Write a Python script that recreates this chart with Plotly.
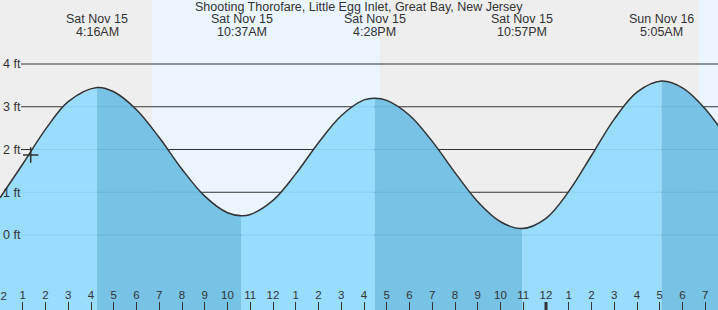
import plotly.graph_objects as go

# ---------------- data ----------------
title_text = "Shooting Thorofare, Little Egg Inlet, Great Bay, New Jersey"

# hours since midnight Sat Nov 15 and tide height (ft)
sample_hours = [0, 1, 2, 3, 5, 6, 7, 8, 9, 10, 11, 12, 13, 14, 15, 16, 17, 18, 19,
                20, 21, 22, 24, 25, 26, 27, 28, 30, 31, 32]
sample_ft = [0.87, 1.66, 2.47, 3.12, 3.35, 2.93, 2.28, 1.54, 0.91, 0.52, 0.48,
             0.81, 1.43, 2.16, 2.79, 3.16, 3.15, 2.80, 2.19, 1.46, 0.78, 0.31,
             0.39, 1.02, 1.86, 2.71, 3.34, 3.44, 2.95, 2.23]

# high / low tides
extreme_hours = [4.267, 10.617, 16.467, 22.95, 29.083]
extreme_ft = [3.45, 0.45, 3.20, 0.15, 3.60]
extreme_dates = ["Sat Nov 15", "Sat Nov 15", "Sat Nov 15", "Sat Nov 15", "Sun Nov 16"]
extreme_clock = ["4:16AM", "10:37AM", "4:28PM", "10:57PM", "5:05AM"]

# daylight periods (start, end) in hours
day_start = [6.67, 30.73]
day_end = [16.70, 32.0]

# current time marker
now_hour = [1.35]
now_ft = [1.87]
midnight_hour = [24]

ytick_vals = [0, 1, 2, 3, 4]
ytick_text = ["0 ft", "1 ft", "2 ft", "3 ft", "4 ft"]
xtick_vals = list(range(0, 32))
xtick_text = ["12", "1", "2", "3", "4", "5", "6", "7", "8", "9", "10", "11",
              "12", "1", "2", "3", "4", "5", "6", "7", "8", "9", "10", "11",
              "12", "1", "2", "3", "4", "5", "6", "7"]

# ---------------- style ----------------
FONT = "Liberation Sans, Arial, sans-serif"
TXT = "#333333"
NIGHT = "#EEEEEE"
DAY = "#EAF5FF"
RISE = "rgba(146,218,253,0.93)"
FALL = "rgba(110,190,228,0.93)"
X_RANGE = [0, 31.56]
Y_RANGE = [-1.754, 5.497]
Y_FLOOR = -3

pts = sorted(zip(sample_hours + extreme_hours, sample_ft + extreme_ft))
pt_x = [p[0] for p in pts]
pt_y = [p[1] for p in pts]

fig = go.Figure()

bounds = [pt_x[0]] + extreme_hours + [pt_x[-1]]
for i in range(len(bounds) - 1):
    a, b = bounds[i], bounds[i + 1]
    sx = [x for x in pt_x if a <= x <= b]
    sy = [y for x, y in zip(pt_x, pt_y) if a <= x <= b]
    fig.add_trace(go.Scatter(x=[a, b], y=[Y_FLOOR, Y_FLOOR], mode="lines",
                             line=dict(width=0), hoverinfo="skip", showlegend=False))
    fig.add_trace(go.Scatter(x=sx, y=sy, mode="lines",
                             line=dict(width=0, shape="spline"),
                             fill="tonexty", fillcolor=RISE if i % 2 == 0 else FALL,
                             hoverinfo="skip", showlegend=False))

fig.add_trace(go.Scatter(x=pt_x, y=pt_y, mode="lines",
                         line=dict(color=TXT, width=1.5, shape="spline"),
                         showlegend=False))
fig.add_trace(go.Scatter(x=now_hour, y=now_ft, mode="markers",
                         marker=dict(symbol="cross-thin", size=11,
                                     line=dict(color=TXT, width=1.5)),
                         showlegend=False))

shapes = []
for s, e in zip(day_start, day_end):
    shapes.append(dict(type="rect", xref="x", yref="paper", x0=s, x1=e, y0=0, y1=1,
                       fillcolor=DAY, line=dict(width=0), layer="below"))
for v in ytick_vals:
    shapes.append(dict(type="line", xref="paper", yref="y", x0=21 / 718, x1=1,
                       y0=v, y1=v, line=dict(color=TXT, width=1), layer="below"))
for m in midnight_hour:
    shapes.append(dict(type="line", xref="x", yref="paper", x0=m, x1=m,
                       y0=0, y1=8 / 310, line=dict(color=TXT, width=3)))

annotations = [dict(text=title_text, x=0.5, xref="paper", y=1 - 7.5 / 310, yref="paper",
                    showarrow=False, yanchor="middle",
                    font=dict(family=FONT, size=12.5, color=TXT))]
for t, d, c in zip(extreme_hours, extreme_dates, extreme_clock):
    annotations.append(dict(text=d, x=t, xref="x", y=1 - 19.5 / 310, yref="paper",
                            showarrow=False, yanchor="middle",
                            font=dict(family=FONT, size=12.5, color=TXT)))
    annotations.append(dict(text=c, x=t, xref="x", y=1 - 32 / 310, yref="paper",
                            showarrow=False, yanchor="middle",
                            font=dict(family=FONT, size=12.5, color=TXT)))
# the first hour label sits on the left edge and is partly cut off (axis hides it)
annotations.append(dict(text=xtick_text[0], x=xtick_vals[0], xref="x",
                        y=14 / 310, yref="paper", showarrow=False, yanchor="middle",
                        font=dict(family=FONT, size=11.5, color=TXT)))

fig.update_layout(
    width=718, height=310,
    margin=dict(l=0, r=0, t=0, b=0, pad=0),
    paper_bgcolor=NIGHT, plot_bgcolor=NIGHT,
    shapes=shapes, annotations=annotations,
    showlegend=False,
    xaxis=dict(range=X_RANGE, tickvals=xtick_vals, ticktext=xtick_text,
               ticks="inside", ticklen=8, tickcolor=TXT, tickwidth=1,
               ticklabelposition="inside", showgrid=False, zeroline=False,
               showline=False, tickfont=dict(family=FONT, size=11.5, color=TXT),
               fixedrange=True),
    yaxis=dict(range=Y_RANGE, tickvals=ytick_vals, ticktext=ytick_text,
               ticks="", ticklabelposition="inside", showgrid=False,
               zeroline=False, showline=False,
               tickfont=dict(family=FONT, size=12.5, color=TXT), fixedrange=True),
)

fig.write_html("out.html")
